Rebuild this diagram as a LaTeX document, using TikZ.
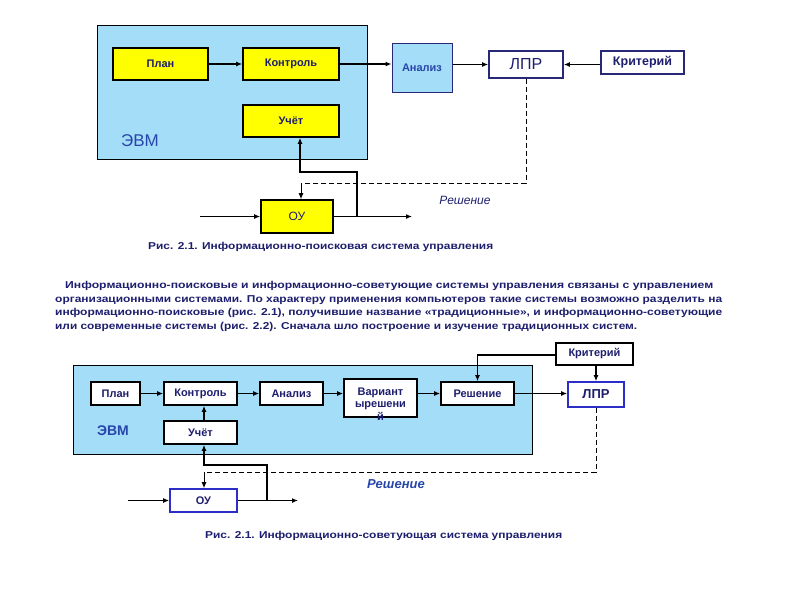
\documentclass[tikz,border=0pt]{standalone}
\usepackage{fontspec}
\setmainfont{Liberation Sans}
\usetikzlibrary{arrows.meta,calc}
\definecolor{navy}{RGB}{30,30,110}
\definecolor{skyfill}{RGB}{163,221,247}
\definecolor{ybox}{RGB}{255,255,0}
\definecolor{evmblue}{RGB}{40,70,170}
\definecolor{bborder}{RGB}{45,45,200}
\definecolor{dborder}{RGB}{40,40,120}
\tikzset{
  evmbox/.style={draw=black, line width=0.8pt, fill=skyfill, inner sep=0pt},
  ybx/.style={draw=black, line width=1.6pt, fill=ybox, inner sep=0pt, font=\bfseries\fontsize{11}{13}\selectfont, text=navy},
  wbx/.style={draw=black, line width=1.6pt, fill=white, inner sep=0pt, font=\bfseries\fontsize{11}{13}\selectfont, text=navy},
  conn/.style={line width=1.4pt, -{Latex[length=6pt,width=5pt]}},
  dashline/.style={line width=1pt, dashed, dash pattern=on 5pt off 3pt},
  lbl/.style={inner sep=0pt, text=navy},
}
\newcommand{\fitw}[2]{\resizebox{#1}{\height}{#2}}
\begin{document}
\begin{tikzpicture}[x=1pt,y=-1pt]
\useasboundingbox[fill=white] (0,0) rectangle (794,595);

% ---------------- top diagram ----------------
\node[evmbox, minimum width=270pt, minimum height=134pt] (evm1) at (232,92) {};
\node[ybx, minimum width=95pt, minimum height=32pt] (plan1) at (160.5,64) {План};
\node[ybx, minimum width=96pt, minimum height=32pt] (kontr1) at (291,64) {Контроль};
\node[ybx, minimum width=96pt, minimum height=32pt] (uchet1) at (291,121) {Учёт};
\node[lbl, text=evmblue, font=\fontsize{17}{19}\selectfont] (evmlab1) at (140,141) {ЭВМ};
\node[draw=dborder, line width=1pt, fill=skyfill, minimum width=60pt, minimum height=49pt, inner sep=0pt, text=evmblue, font=\bfseries\fontsize{11}{13}\selectfont] (anal1) at (422,67.5) {Анализ};
\node[draw=dborder, line width=1.6pt, fill=white, minimum width=74pt, minimum height=27pt, inner sep=0pt, text=navy, font=\fontsize{16}{18}\selectfont] (lpr1) at (526,64.5) {ЛПР};
\node[draw=dborder, line width=1.6pt, fill=white, minimum width=83pt, minimum height=23pt, inner sep=0pt, text=navy, font=\bfseries\fontsize{12.5}{14}\selectfont] (krit1) at (642.5,62.5) {Критерий};
\node[ybx, minimum width=72pt, minimum height=33pt, font=\fontsize{12}{14}\selectfont] (ou1) at (297,216.5) {ОУ};
\node[lbl, font=\itshape\fontsize{12}{14}\selectfont] (resh1lab) at (465,200) {Решение};

\coordinate (in1) at (200,216.5);
\coordinate (out1) at (412,216.5);
\coordinate (fbA) at (357,216.5);
\coordinate (fbB) at (357,172);
\coordinate (fbC) at (300,172);
\coordinate (dA) at (526,183);
\coordinate (dB) at (301,183);

\draw[conn] (plan1) -- (kontr1);
\draw[conn] (kontr1.east) -- (kontr1.east -| anal1.west);
\draw[conn] (anal1.east |- lpr1.west) -- (lpr1.west);
\draw[conn] (krit1.west |- lpr1.east) -- (lpr1.east);
\draw[conn] (in1) -- (ou1.west);
\draw[conn] (ou1.east) -- (out1);
\draw[conn] (fbA) -- (fbB) -- (fbC) -- (fbC |- uchet1.south);
\draw[dashline] (lpr1.south) -- (dA) -- (dB);
\draw[conn, line width=1pt] (dB) -- (dB |- ou1.north);

\node[lbl, font=\bfseries\fontsize{10}{12}\selectfont, anchor=base west] (cap1) at (148,249) {\fitw{345pt}{Рис. 2.1. Информационно-поисковая система управления}};

% ---------------- paragraph ----------------
\node[lbl, font=\bfseries\fontsize{10}{12}\selectfont, anchor=base west] (par1) at (65,288.5) {\fitw{648pt}{Информационно-поисковые и информационно-советующие системы управления связаны с управлением}};
\node[lbl, font=\bfseries\fontsize{10}{12}\selectfont, anchor=base west] (par2) at (55,302) {\fitw{667pt}{организационными системами. По характеру применения компьютеров такие системы возможно разделить на}};
\node[lbl, font=\bfseries\fontsize{10}{12}\selectfont, anchor=base west] (par3) at (55,315.5) {\fitw{667pt}{информационно-поисковые (рис. 2.1), получившие название «традиционные», и информационно-советующие}};
\node[lbl, font=\bfseries\fontsize{10}{12}\selectfont, anchor=base west] (par4) at (55,329) {\fitw{582pt}{или современные системы (рис. 2.2). Сначала шло построение и изучение традиционных систем.}};

% ---------------- bottom diagram ----------------
\node[evmbox, minimum width=459pt, minimum height=89pt] (evm2) at (302.5,409.5) {};
\node[wbx, minimum width=49pt, minimum height=23pt] (plan2) at (115.5,393.5) {План};
\node[wbx, minimum width=73pt, minimum height=23pt] (kontr2) at (200.5,393.5) {Контроль};
\node[wbx, minimum width=63pt, minimum height=23pt] (anal2) at (291.5,393.5) {Анализ};
\node[wbx, minimum width=73pt, minimum height=38pt] (var2) at (380.5,398) {};
\node[lbl, align=center, font=\bfseries\fontsize{11}{12.5}\selectfont] (var2t) at (380.5,404) {Вариант\\ырешени\\й};
\node[wbx, minimum width=73pt, minimum height=23pt] (resh2) at (477.5,393.5) {Решение};
\node[wbx, draw=bborder, minimum width=56pt, minimum height=25pt, font=\bfseries\fontsize{13}{15}\selectfont] (lpr2) at (596,394.5) {ЛПР};
\node[wbx, minimum width=77pt, minimum height=22pt] (krit2) at (594.5,354) {Критерий};
\node[wbx, minimum width=73pt, minimum height=23pt] (uchet2) at (200.5,432.5) {Учёт};
\node[lbl, text=evmblue, font=\bfseries\fontsize{14}{16}\selectfont] (evmlab2) at (113,431) {ЭВМ};
\node[wbx, draw=bborder, minimum width=67pt, minimum height=23pt] (ou2) at (203.5,500.5) {ОУ};
\node[lbl, text=evmblue, font=\bfseries\itshape\fontsize{13}{15}\selectfont] (resh2lab) at (396,484) {Решение};

\coordinate (in2) at (128,500.5);
\coordinate (out2) at (298,500.5);
\coordinate (gA) at (267,500.5);
\coordinate (gB) at (267,465);
\coordinate (gC) at (204,465);
\coordinate (eA) at (596,472);
\coordinate (eB) at (204,472);
\coordinate (kA) at (477.5,355);
\coordinate (uk) at (204,0);

\draw[conn] (plan2) -- (kontr2);
\draw[conn] (kontr2) -- (anal2);
\draw[conn] (anal2) -- (var2.west |- anal2.east);
\draw[conn] (var2.east |- resh2.west) -- (resh2);
\draw[conn] (resh2) -- (lpr2.west |- resh2.east);
\draw[conn] (krit2.south -| lpr2.north) -- (lpr2.north);
\draw[conn] (krit2.west |- kA) -- (kA) -- (resh2.north);
\draw[conn] (uk |- uchet2.north) -- (uk |- kontr2.south);
\draw[conn] (in2) -- (ou2.west);
\draw[conn] (ou2.east) -- (out2);
\draw[conn] (gA) -- (gB) -- (gC) -- (gC |- uchet2.south);
\draw[dashline] (lpr2.south) -- (eA) -- (eB);
\draw[conn, line width=1pt] (eB) -- (eB |- ou2.north);

\node[lbl, font=\bfseries\fontsize{10}{12}\selectfont, anchor=base west] (cap2) at (205,538.5) {\fitw{357pt}{Рис. 2.1. Информационно-советующая система управления}};
\end{tikzpicture}
\end{document}
